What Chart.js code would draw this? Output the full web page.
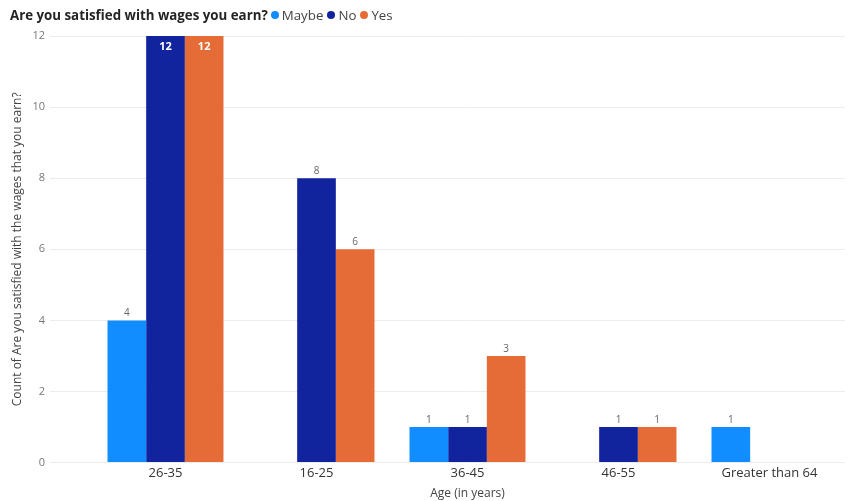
<!DOCTYPE html>
<html>
<head>
<meta charset="utf-8">
<script src="https://cdn.jsdelivr.net/npm/chart.js@4"></script>
<style>
  html, body { margin: 0; padding: 0; background: #fff; }
  #wrap { position: relative; width: 865px; height: 501px; }
  #head {
    position: absolute; left: 10px; top: 6px; z-index: 2;
    font-family: "Open Sans", "Noto Sans", sans-serif; font-size: 13.3px; color: #252423;
    white-space: nowrap;
  }
  #head b { font-weight: 700; margin-right: 3px; }
  .item { margin-right: 4px; color: #444; }
  .dot { display: inline-block; width: 8px; height: 8px; border-radius: 50%; margin-right: 3px; vertical-align: 1px; }
  canvas { position: absolute; left: 0; top: 0; }
</style>
</head>
<body>
<div id="wrap">
  <div id="head"><b>Are you satisfied with wages you earn?</b><span id="legend"></span></div>
  <canvas id="chart" width="865" height="501"></canvas>
</div>
<script>
const categories = ["26-35", "16-25", "36-45", "46-55", "Greater than 64"];
const seriesNames = ["Maybe", "No", "Yes"];
const maybeCounts = [4, null, 1, null, 1];
const noCounts = [12, 8, 1, 1, null];
const yesCounts = [12, 6, 3, 1, null];
const yTicks = [0, 2, 4, 6, 8, 10, 12];
const colors = ["#118DFF", "#12239E", "#E66C37"];

// legend dots next to the title
document.getElementById('legend').innerHTML = seriesNames.map((n, i) =>
  `<span class="item"><span class="dot" style="background:${colors[i]}"></span>${n}</span>`).join('');

// value labels: above the bar, or inside the top when it hits the axis max
const valueLabels = {
  id: 'valueLabels',
  afterDatasetsDraw(chart) {
    const ctx = chart.ctx;
    ctx.save();
    ctx.textAlign = 'center';
    chart.data.datasets.forEach((ds, di) => {
      chart.getDatasetMeta(di).data.forEach((bar, i) => {
        const v = ds.data[i];
        if (v == null) return;
        if (v >= 12) {
          ctx.fillStyle = '#fff';
          ctx.font = 'bold 11px "Open Sans", sans-serif';
          ctx.textBaseline = 'top';
          ctx.fillText(v, bar.x, bar.y + 5);
        } else {
          ctx.fillStyle = '#666';
          ctx.font = '10px "Open Sans", sans-serif';
          ctx.textBaseline = 'bottom';
          ctx.fillText(v, bar.x, bar.y - 2);
        }
      });
    });
    ctx.restore();
  }
};

new Chart(document.getElementById('chart'), {
  type: 'bar',
  data: {
    labels: categories,
    datasets: [maybeCounts, noCounts, yesCounts].map((d, i) => ({
      label: seriesNames[i],
      data: d,
      backgroundColor: colors[i],
      categoryPercentage: 0.768,
      barPercentage: 1
    }))
  },
  options: {
    responsive: false,
    animation: false,
    layout: { padding: { top: 36, right: 20, left: 6, bottom: 0 } },
    plugins: { legend: { display: false }, tooltip: { enabled: false } },
    scales: {
      x: {
        grid: { display: false, drawTicks: false, tickLength: 0 },
        border: { display: false },
        ticks: { color: '#333', font: { family: '"Open Sans", sans-serif', size: 13, lineHeight: 1 }, padding: 4 },
        title: { display: true, text: 'Age (in years)', color: '#444', font: { family: '"Open Sans", sans-serif', size: 12 }, padding: { top: 3, bottom: 0 } }
      },
      y: {
        min: 0, max: 12,
        afterBuildTicks(axis) { axis.ticks = yTicks.map(v => ({ value: v })); },
        afterFit(axis) { axis.width = 84; },
        grid: { color: '#ececec', lineWidth: 1, tickLength: 40, tickColor: '#ececec' },
        border: { display: false },
        ticks: { color: '#777', font: { family: '"Open Sans", sans-serif', size: 11 }, padding: 5 },
        title: { display: true, text: 'Count of Are you satisfied with the wages that you earn?', color: '#444', font: { family: '"Open Sans", sans-serif', size: 12 }, padding: { bottom: 0 } }
      }
    }
  },
  plugins: [valueLabels]
});
</script>
</body>
</html>
